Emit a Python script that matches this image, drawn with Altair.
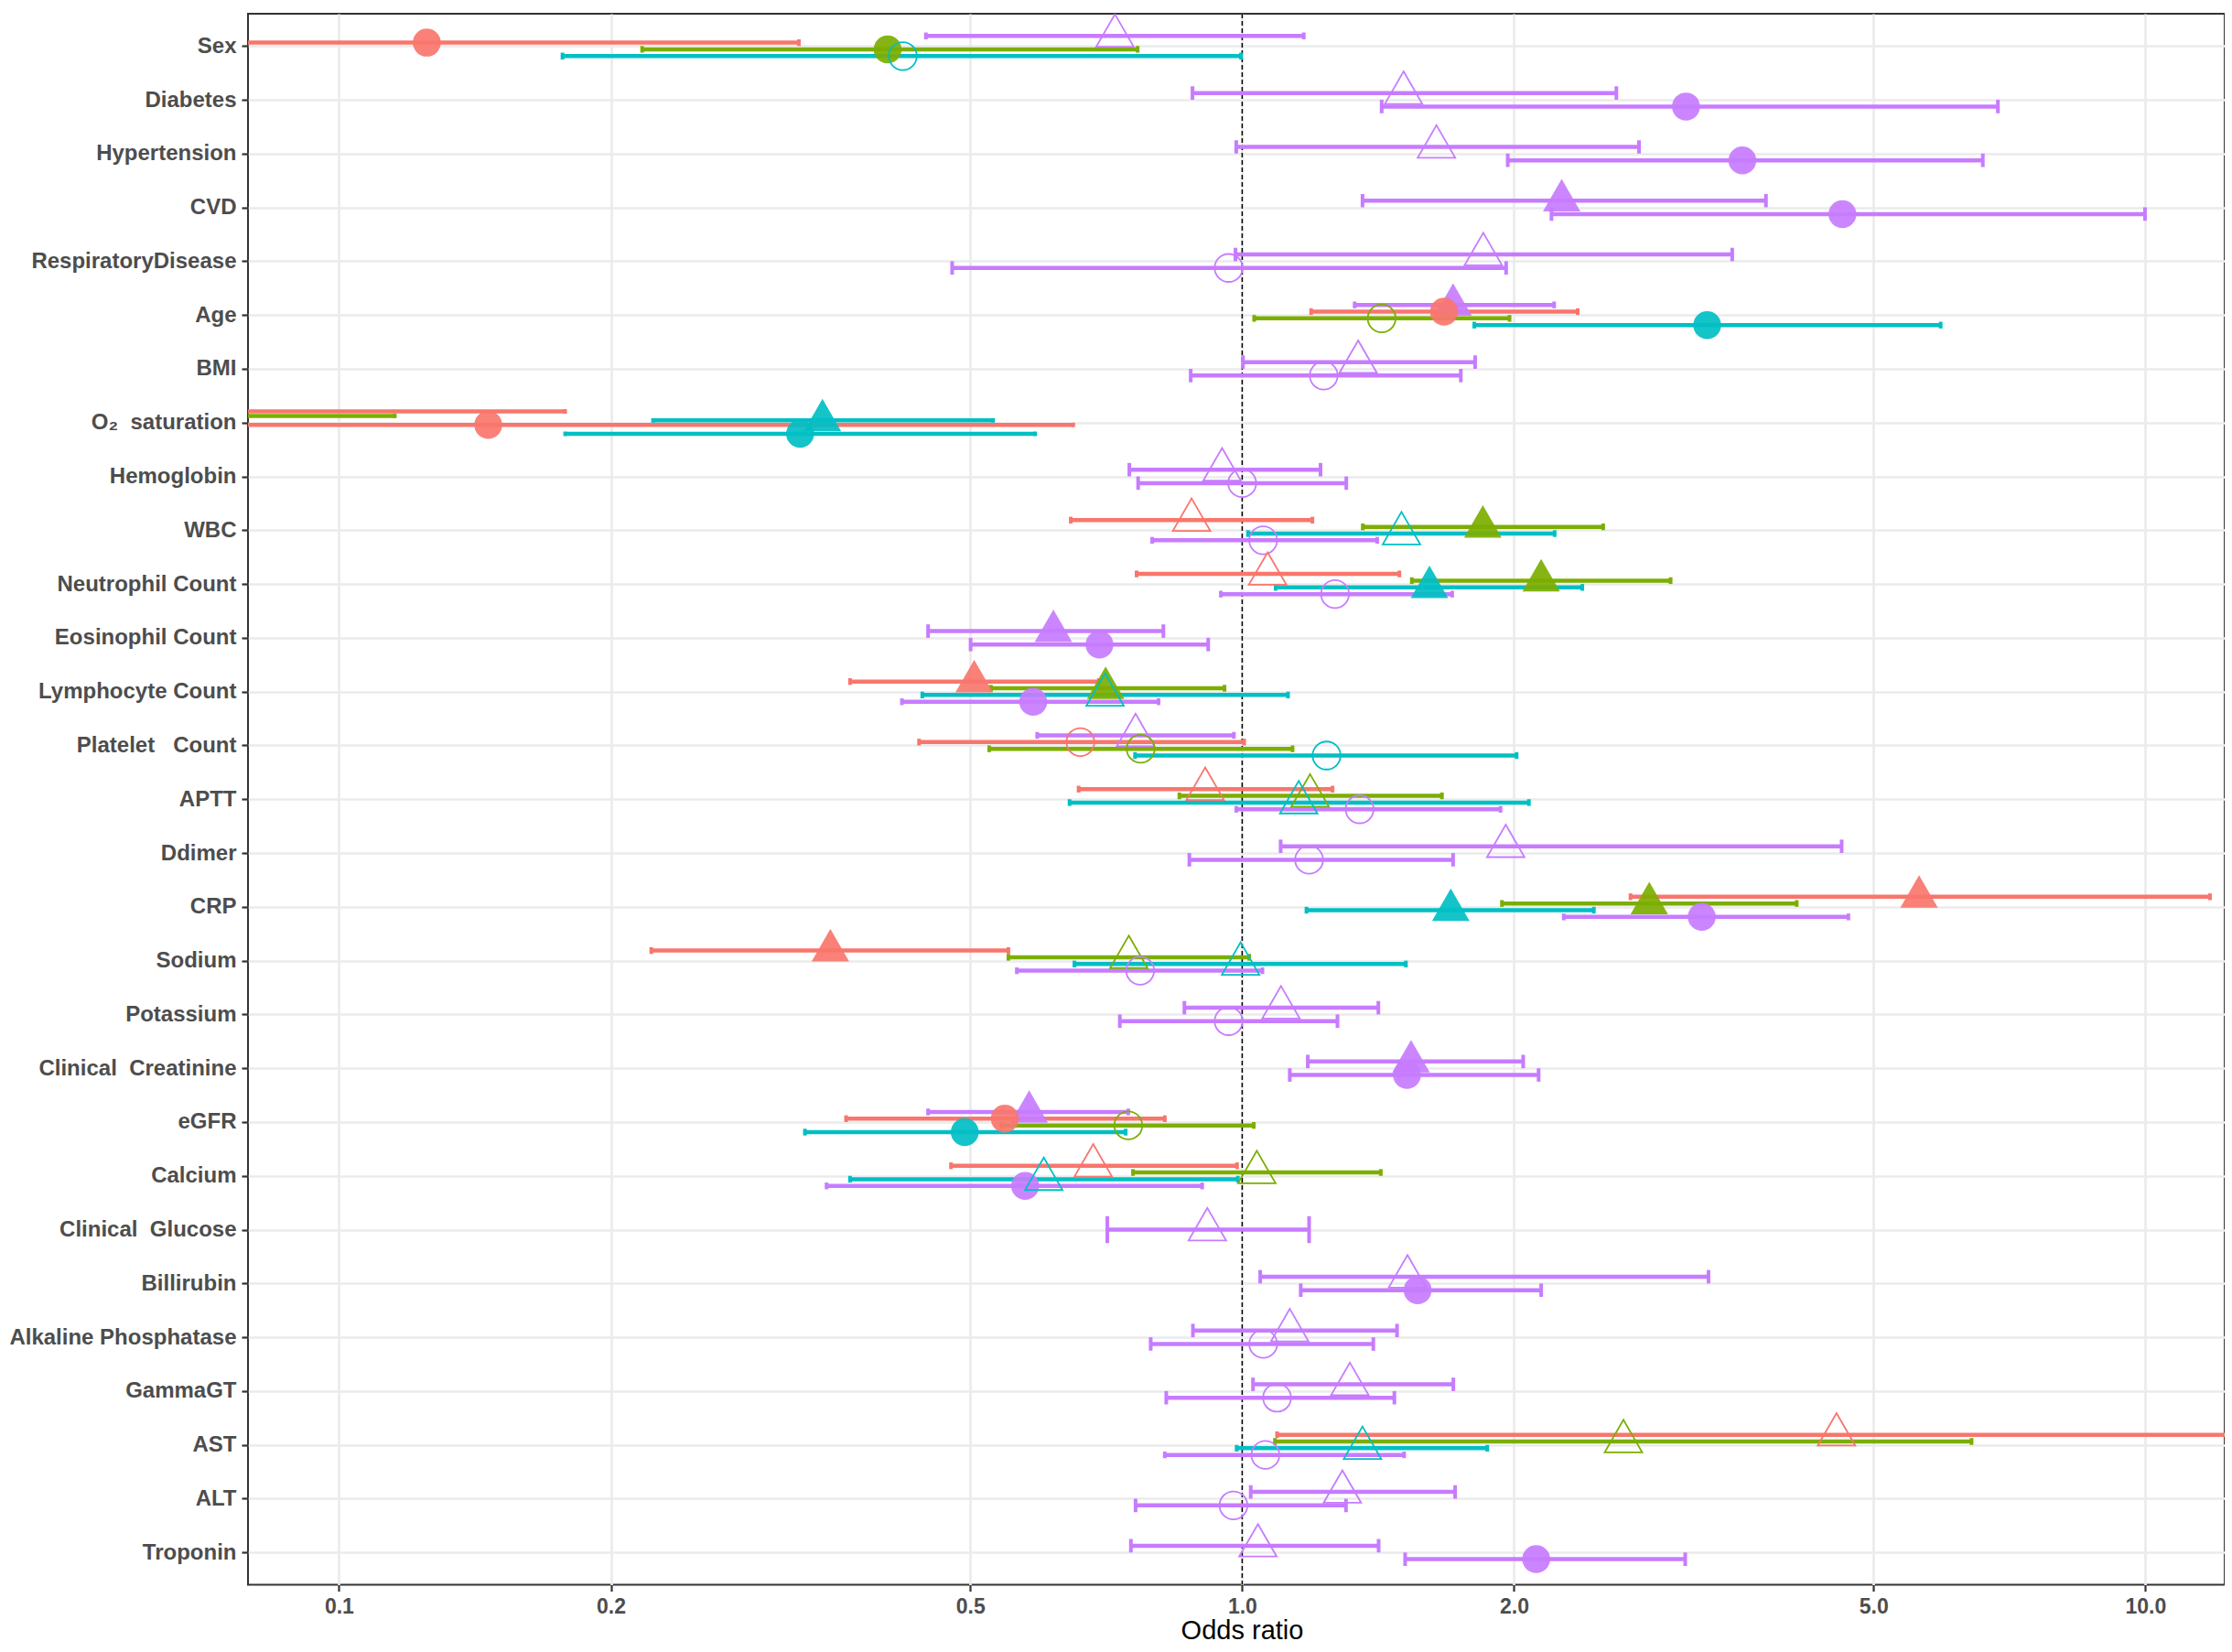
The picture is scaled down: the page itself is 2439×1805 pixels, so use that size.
import json
import altair as alt
import pandas as pd

NB = "\u00a0"

# ---------------- categories (top to bottom) ----------------
category_keys = [
    "Sex", "Diabetes", "Hypertension", "CVD", "RespiratoryDisease", "Age", "BMI",
    "O2 saturation", "Hemoglobin", "WBC", "Neutrophil Count", "Eosinophil Count",
    "Lymphocyte Count", "Platelet Count", "APTT", "Ddimer", "CRP", "Sodium", "Potassium",
    "Clinical Creatinine", "eGFR", "Calcium", "Clinical Glucose", "Billirubin",
    "Alkaline Phosphatase", "GammaGT", "AST", "ALT", "Troponin",
]
category_labels = [
    "Sex", "Diabetes", "Hypertension", "CVD", "RespiratoryDisease", "Age", "BMI",
    "O\u2082" + NB * 2 + "saturation", "Hemoglobin", "WBC", "Neutrophil Count", "Eosinophil Count",
    "Lymphocyte Count", "Platelet" + NB * 3 + "Count", "APTT", "Ddimer", "CRP", "Sodium", "Potassium",
    "Clinical" + NB * 2 + "Creatinine", "eGFR", "Calcium", "Clinical" + NB * 2 + "Glucose", "Billirubin",
    "Alkaline Phosphatase", "GammaGT", "AST", "ALT", "Troponin",
]

# ---------------- series: (category, OR, lower, upper, filled) ----------------
tri_red = [
    ("O2 saturation", 0.05, 0.02, 0.178, True),
    ("WBC", 0.879, 0.646, 1.196, False),
    ("Neutrophil Count", 1.067, 0.764, 1.493, False),
    ("Lymphocyte Count", 0.505, 0.368, 0.694, True),
    ("APTT", 0.910, 0.659, 1.259, False),
    ("CRP", 5.616, 2.691, 11.79, True),
    ("Sodium", 0.350, 0.2217, 0.551, True),
    ("Calcium", 0.684, 0.476, 0.987, False),
    ("AST", 4.55, 1.093, 20.0, False),
]
tri_green = [
    ("O2 saturation", 0.04, 0.015, 0.1153, True),
    ("WBC", 1.847, 1.360, 2.51, True),
    ("Neutrophil Count", 2.143, 1.541, 2.981, True),
    ("Lymphocyte Count", 0.706, 0.527, 0.956, True),
    ("APTT", 1.189, 0.852, 1.664, False),
    ("CRP", 2.823, 1.939, 4.111, True),
    ("Sodium", 0.749, 0.551, 1.018, False),
    ("Calcium", 1.038, 0.757, 1.424, False),
    ("AST", 2.643, 1.087, 6.42, False),
]
tri_teal = [
    ("O2 saturation", 0.343, 0.2227, 0.530, True),
    ("WBC", 1.501, 1.015, 2.218, False),
    ("Neutrophil Count", 1.612, 1.089, 2.380, True),
    ("Lymphocyte Count", 0.705, 0.4424, 1.124, False),
    ("APTT", 1.155, 0.644, 2.077, False),
    ("CRP", 1.702, 1.178, 2.451, True),
    ("Sodium", 0.996, 0.652, 1.518, False),
    ("Calcium", 0.603, 0.368, 0.989, False),
    ("AST", 1.359, 0.986, 1.868, False),
]
tri_purple = [
    ("Sex", 0.723, 0.4465, 1.170, False),
    ("Diabetes", 1.509, 0.881, 2.596, False),
    ("Hypertension", 1.641, 0.985, 2.750, False),
    ("CVD", 2.258, 1.359, 3.801, True),
    ("RespiratoryDisease", 1.849, 0.983, 3.488, False),
    ("Age", 1.712, 1.332, 2.215, True),
    ("BMI", 1.344, 1.002, 1.811, False),
    ("Hemoglobin", 0.950, 0.750, 1.221, False),
    ("Eosinophil Count", 0.618, 0.449, 0.818, True),
    ("Platelet Count", 0.762, 0.593, 0.979, False),
    ("Ddimer", 1.958, 1.103, 4.61, False),
    ("Potassium", 1.104, 0.863, 1.415, False),
    ("Clinical Creatinine", 1.538, 1.182, 2.047, True),
    ("eGFR", 0.581, 0.449, 0.748, True),
    ("Clinical Glucose", 0.915, 0.709, 1.186, False),
    ("Billirubin", 1.524, 1.047, 3.283, False),
    ("Alkaline Phosphatase", 1.129, 0.882, 1.484, False),
    ("GammaGT", 1.316, 1.028, 1.713, False),
    ("ALT", 1.291, 1.022, 1.721, False),
    ("Troponin", 1.041, 0.753, 1.416, False),
]
circ_red = [
    ("Sex", 0.1251, 0.04, 0.323, True),
    ("Age", 1.673, 1.192, 2.352, True),
    ("O2 saturation", 0.1463, 0.03, 0.650, True),
    ("Platelet Count", 0.662, 0.4388, 1.005, False),
    ("eGFR", 0.546, 0.3643, 0.821, True),
]
circ_green = [
    ("Sex", 0.405, 0.2166, 0.766, True),
    ("Age", 1.427, 1.031, 1.977, False),
    ("O2 saturation", 0.03, 0.012, 0.07, True),
    ("Platelet Count", 0.772, 0.5247, 1.137, False),
    ("eGFR", 0.748, 0.542, 1.030, False),
]
circ_teal = [
    ("Sex", 0.421, 0.1768, 0.997, False),
    ("Age", 3.272, 1.807, 5.934, True),
    ("O2 saturation", 0.324, 0.178, 0.590, True),
    ("Platelet Count", 1.240, 0.761, 2.013, False),
    ("eGFR", 0.493, 0.328, 0.743, True),
]
circ_purple = [
    ("Diabetes", 3.100, 1.427, 6.866, True),
    ("Hypertension", 3.579, 1.968, 6.607, True),
    ("CVD", 4.619, 2.200, 9.99, True),
    ("RespiratoryDisease", 0.966, 0.4774, 1.960, False),
    ("BMI", 1.231, 0.877, 1.746, False),
    ("Hemoglobin", 1.0, 0.767, 1.304, False),
    ("WBC", 1.055, 0.795, 1.411, False),
    ("Neutrophil Count", 1.267, 0.947, 1.708, False),
    ("Eosinophil Count", 0.695, 0.5004, 0.917, True),
    ("Lymphocyte Count", 0.587, 0.420, 0.808, True),
    ("APTT", 1.349, 0.985, 1.932, False),
    ("Ddimer", 1.186, 0.874, 1.712, False),
    ("CRP", 3.227, 2.270, 4.69, True),
    ("Sodium", 0.771, 0.563, 1.053, False),
    ("Potassium", 0.966, 0.732, 1.275, False),
    ("Clinical Creatinine", 1.522, 1.129, 2.129, True),
    ("Calcium", 0.575, 0.3466, 0.903, True),
    ("Billirubin", 1.564, 1.161, 2.143, True),
    ("Alkaline Phosphatase", 1.055, 0.792, 1.397, False),
    ("GammaGT", 1.093, 0.824, 1.474, False),
    ("AST", 1.061, 0.821, 1.511, False),
    ("ALT", 0.978, 0.762, 1.303, False),
    ("Troponin", 2.116, 1.515, 3.094, True),
]

series = [
    ("tri", "red", tri_red), ("tri", "green", tri_green), ("tri", "teal", tri_teal),
    ("tri", "purple", tri_purple), ("circ", "red", circ_red), ("circ", "green", circ_green),
    ("circ", "teal", circ_teal), ("circ", "purple", circ_purple),
]
color_keys = ["red", "green", "teal", "purple"]
color_values = ["#F8766D", "#7CAE00", "#00BFC4", "#C77CFF"]

rows = []
for order, (shape, col, entries) in enumerate(series):
    for cat, est, lo, hi, filled in entries:
        rows.append(dict(cat=cat, row=category_keys.index(cat) + 1, order=order,
                         shape=shape, color=col, est=est, lo=lo, hi=hi, filled=filled))
df = pd.DataFrame(rows).sort_values(["row", "order"]).reset_index(drop=True)

# position_dodge(width = 0.5) along the category axis
DODGE = 0.5
df["n"] = df.groupby("row")["row"].transform("size")
df["i"] = df.groupby("row").cumcount()
df["ypos"] = df["row"] + (df["i"] - (df["n"] - 1) / 2) * DODGE / df["n"]
df["cap1"] = df["ypos"] - DODGE / df["n"] / 2
df["cap2"] = df["ypos"] + DODGE / df["n"] / 2

ref_df = pd.DataFrame({"ref": [1.0]})

TRI = "M0,-1.552L1.344,0.776L-1.344,0.776Z"

xscale = alt.Scale(type="log", domain=[0.0793, 12.24], nice=False)
yscale = alt.Scale(domain=[0.4, 29.6], reverse=True, nice=False, zero=False)

xaxis = alt.Axis(
    values=[0.1, 0.2, 0.5, 1, 2, 5, 10], format=".1f", title="Odds ratio",
    labelFontSize=23, labelFontWeight="bold", labelColor="#4D4D4D", labelPadding=6,
    labelOverlap=False, labelFlush=False, tickSize=7, tickWidth=2.2, tickColor="#333333",
    domain=False, grid=True, gridColor="#EBEBEB", gridWidth=2.7,
    titleFontSize=29, titleColor="black", titleFontWeight="normal",
    titleX=1086, titleY=58.5, titleBaseline="alphabetic", titleAlign="center",
)
label_array = json.dumps(category_labels, ensure_ascii=False)
yaxis = alt.Axis(
    values=list(range(1, len(category_keys) + 1)), title=None,
    labelExpr=label_array + "[datum.value - 1]",
    labelFontSize=24, labelFontWeight="bold", labelColor="#4D4D4D", labelPadding=6,
    labelLimit=0, labelOverlap=False, labelFlush=False,
    tickSize=7, tickWidth=2.2, tickColor="#333333", domain=False,
    grid=True, gridColor="#EBEBEB", gridWidth=2.7,
)

color = alt.Color("color:N", scale=alt.Scale(domain=color_keys, range=color_values), legend=None)
shape = alt.Shape("shape:N", scale=alt.Scale(domain=["tri", "circ"], range=[TRI, "circle"]), legend=None)

base = alt.Chart(df)

vline = alt.Chart(ref_df).mark_rule(color="black", strokeWidth=1.5, strokeDash=[5, 3]).encode(
    x=alt.X("ref:Q", scale=xscale, axis=xaxis),
)
bars = base.mark_rule(strokeWidth=4.5, clip=True).encode(
    x=alt.X("lo:Q", scale=xscale, axis=xaxis), x2="hi:Q",
    y=alt.Y("ypos:Q", scale=yscale, axis=yaxis), color=color,
)
caps_lo = base.mark_rule(strokeWidth=4, clip=True).encode(
    x=alt.X("lo:Q", scale=xscale, axis=xaxis),
    y=alt.Y("cap1:Q", scale=yscale, axis=yaxis), y2="cap2:Q", color=color,
)
caps_hi = base.mark_rule(strokeWidth=4, clip=True).encode(
    x=alt.X("hi:Q", scale=xscale, axis=xaxis),
    y=alt.Y("cap1:Q", scale=yscale, axis=yaxis), y2="cap2:Q", color=color,
)
pts_filled = base.transform_filter("datum.filled").mark_point(
    filled=True, size=930, opacity=0.92, clip=True
).encode(
    x=alt.X("est:Q", scale=xscale, axis=xaxis),
    y=alt.Y("ypos:Q", scale=yscale, axis=yaxis), color=color, shape=shape,
)
pts_open = base.transform_filter("!datum.filled").mark_point(
    filled=False, size=930, strokeWidth=1.8, opacity=1, clip=True
).encode(
    x=alt.X("est:Q", scale=xscale, axis=xaxis),
    y=alt.Y("ypos:Q", scale=yscale, axis=yaxis), color=color, shape=shape,
)

chart = alt.layer(vline, bars, caps_lo, caps_hi, pts_filled, pts_open).properties(
    width=2160, height=1716.5,
    padding={"left": 263, "top": 7, "right": 0, "bottom": 65.5},
    autosize=alt.AutoSizeParams(type="none"),
).configure(font="Liberation Sans").configure_view(stroke="#333333", strokeWidth=2)

chart.save("out.html", embed_options={"renderer": "svg", "actions": False})
